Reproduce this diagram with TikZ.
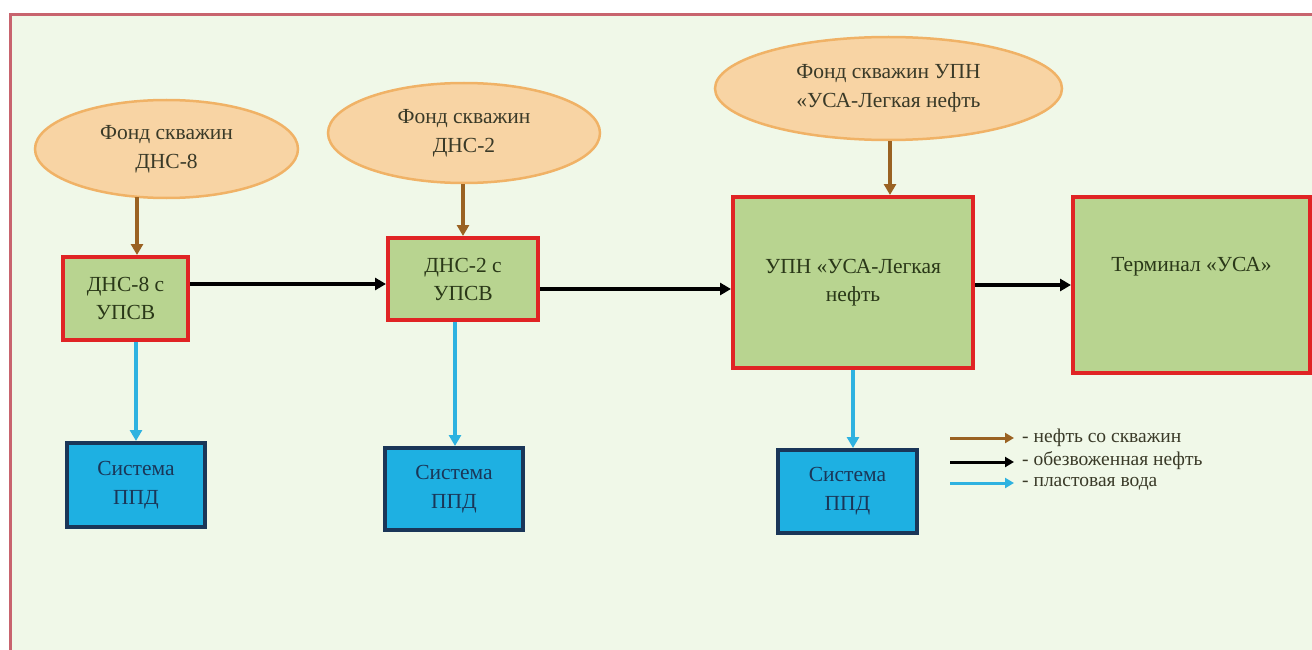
\documentclass[tikz,border=0pt]{standalone}
\usepackage{fontspec}
\setmainfont{Liberation Serif}
\usetikzlibrary{arrows.meta,shapes.geometric}
\definecolor{bgfill}{HTML}{F0F8E8}
\definecolor{framec}{HTML}{C8646E}
\definecolor{ellfill}{HTML}{F8D4A4}
\definecolor{elldraw}{HTML}{F0B266}
\definecolor{boxfill}{HTML}{B8D490}
\definecolor{boxdraw}{HTML}{E02424}
\definecolor{ppdfill}{HTML}{1EB0E2}
\definecolor{ppddraw}{HTML}{1A3658}
\definecolor{oilc}{HTML}{9A6222}
\definecolor{waterc}{HTML}{2EB2E0}
\definecolor{txtc}{HTML}{3A3A28}
\definecolor{boxtxt}{HTML}{2A3818}
\tikzset{
  ell/.style={ellipse, draw=elldraw, fill=ellfill, line width=2.5pt, inner sep=0pt, text=txtc, align=center, font=\fontsize{21.5}{29}\selectfont},
  plant/.style={rectangle, draw=boxdraw, fill=boxfill, line width=4pt, inner sep=0pt, text=boxtxt, align=center, font=\fontsize{21.5}{28}\selectfont},
  ppd/.style={rectangle, draw=ppddraw, fill=ppdfill, line width=4pt, inner sep=0pt, text=ppddraw, align=center, font=\fontsize{21.5}{29}\selectfont},
  oilarr/.style={draw=oilc, line width=3.5pt, -{Triangle[length=11pt,width=12pt]}},
  dryarr/.style={draw=black, line width=3.5pt, -{Triangle[length=11pt,width=12pt]}},
  watarr/.style={draw=waterc, line width=3.5pt, -{Triangle[length=11pt,width=12pt]}},
  legarr/.style={line width=3pt, -{Triangle[length=9pt,width=10pt]}},
  legtxt/.style={anchor=west, text=txtc, inner sep=0pt, font=\fontsize{19.5}{22}\selectfont},
}
\begin{document}
\begin{tikzpicture}[x=1pt,y=-1pt]
\useasboundingbox (0,0) rectangle (1312,650);
\clip (0,0) rectangle (1312,650);
\fill[white] (0,0) rectangle (1312,650);
\draw[framec, fill=bgfill, line width=3pt] (10,15) rectangle (1330,670);

% ellipses
\node[ell, minimum width=263pt, minimum height=98pt] (e1) at (166.5,149) {Фонд скважин\\ДНС-8};
\node[ell, minimum width=272pt, minimum height=100pt] (e2) at (464,133) {Фонд скважин\\ДНС-2};
\node[ell, minimum width=347pt, minimum height=103pt] (e3) at (888.5,88.5) {Фонд скважин УПН\\«УСА-Легкая нефть};

% plants
\node[plant, minimum width=125pt, minimum height=83pt] (b1) at (125.5,298.5) {ДНС-8 с\\УПСВ};
\node[plant, minimum width=150pt, minimum height=82pt] (b2) at (463,279) {ДНС-2 с\\УПСВ};
\node[plant, minimum width=240pt, minimum height=171pt] (b3) at (853,282.5) {УПН «УСА-Легкая\\нефть};
\node[plant, minimum width=237pt, minimum height=176pt] (b4) at (1191.5,285) {};
\node[text=boxtxt, inner sep=0pt, font=\fontsize{21.5}{28}\selectfont] (t4) at (1191.5,267) {Терминал «УСА»};

% PPD systems
\node[ppd, minimum width=138pt, minimum height=84pt] (p1) at (136,485) {Система\\ППД};
\node[ppd, minimum width=138pt, minimum height=82pt] (p2) at (454,489) {Система\\ППД};
\node[ppd, minimum width=139pt, minimum height=83pt] (p3) at (847.5,491.5) {Система\\ППД};

% helper coordinates
\coordinate (x1) at (137,0);
\coordinate (x2) at (463,0);
\coordinate (x3) at (890,0);
\coordinate (w1) at (136,0);
\coordinate (w2) at (455,0);
\coordinate (w3) at (853,0);
\coordinate (y12) at (0,284);
\coordinate (y23) at (0,289);
\coordinate (y34) at (0,285);

% oil from wells
\draw[oilarr] (e1.south -| x1) ++(0,-2) -- (b1.north -| x1);
\draw[oilarr] (e2.south -| x2) -- (b2.north -| x2);
\draw[oilarr] (e3.south -| x3) -- (b3.north -| x3);

% dewatered oil
\draw[dryarr] (b1.east |- y12) -- (b2.west |- y12);
\draw[dryarr] (b2.east |- y23) -- (b3.west |- y23);
\draw[dryarr] (b3.east |- y34) -- (b4.west |- y34);

% formation water
\draw[watarr] (b1.south -| w1) -- (p1.north -| w1);
\draw[watarr] (b2.south -| w2) -- (p2.north -| w2);
\draw[watarr] (b3.south -| w3) -- (p3.north -| w3);

% legend
\coordinate (l1a) at (950,438); \coordinate (l1b) at (1014,438);
\coordinate (l2a) at (950,462); \coordinate (l2b) at (1014,462);
\coordinate (l3a) at (950,483); \coordinate (l3b) at (1014,483);
\draw[legarr, oilc] (l1a) -- (l1b);
\draw[legarr, black] (l2a) -- (l2b);
\draw[legarr, waterc] (l3a) -- (l3b);
\node[legtxt] (lt1) at (1022,438) {- нефть со скважин};
\node[legtxt] (lt2) at (1022,461) {- обезвоженная нефть};
\node[legtxt] (lt3) at (1022,484) {- пластовая вода};
\end{tikzpicture}
\end{document}
